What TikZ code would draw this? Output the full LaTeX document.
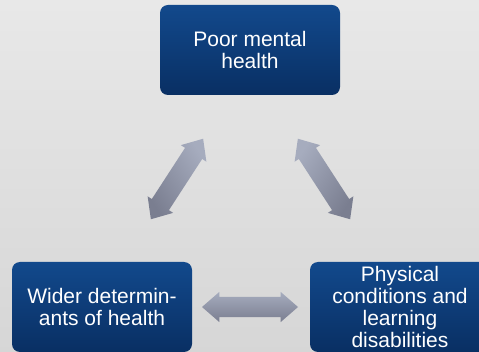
\documentclass[tikz,border=0pt]{standalone}
\usepackage{fontspec}
\setmainfont{Liberation Sans}
\usetikzlibrary{shapes.arrows}
\definecolor{boxtop}{RGB}{18,73,140}
\definecolor{boxbot}{RGB}{9,47,99}
\definecolor{arrtop}{RGB}{166,172,190}
\definecolor{arrbot}{RGB}{122,126,144}
\tikzset{
  topic/.style={rounded corners=8pt, top color=boxtop, bottom color=boxbot,
    minimum width=180pt, minimum height=90pt, inner sep=0pt, align=center,
    text=white, font=\fontsize{21}{22}\selectfont},
  link/.style={double arrow, top color=arrtop, bottom color=arrbot,
    minimum height=96pt, inner xsep=0pt, inner ysep=10pt,
    double arrow head extend=5pt, double arrow tip angle=82}
}
\begin{document}
\begin{tikzpicture}[x=1pt,y=-1pt]
\useasboundingbox (0,0) rectangle (479,352);
\shade[top color=white!91!black, bottom color=white!84!black] (0,0) rectangle (479,352);
\node[topic] (mental) at (250,50) {Poor mental\\health};
\node[topic] (wider) at (102,307) {Wider determin-\\ants of health};
\node[topic] (physical) at (400,307) {Physical\\conditions and\\learning\\disabilities};

\node[link, rotate=57, shading angle=-57] (leftlink) at (177,179) {};
\node[link, rotate=-57, shading angle=57] (rightlink) at (324,179) {};
\node[link] (baselink) at (250,307) {};
\end{tikzpicture}
\end{document}
